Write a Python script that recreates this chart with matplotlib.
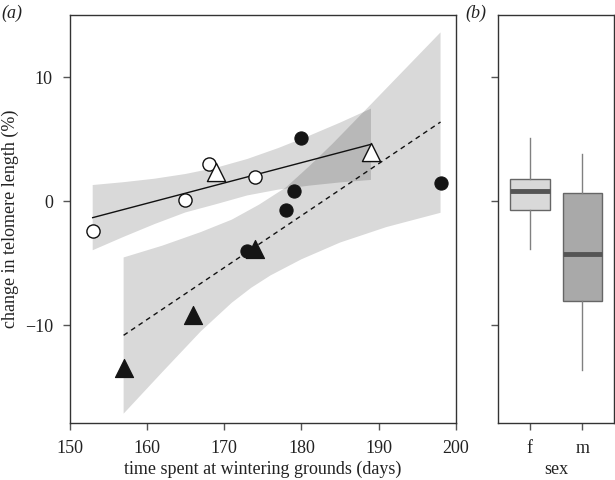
import matplotlib
matplotlib.use("Agg")
import matplotlib.pyplot as plt

plt.rcParams['font.family'] = ['Liberation Serif', 'DejaVu Serif']

# ---- data (panel a) ----
open_circ_x = [153, 165, 168, 174]
open_circ_y = [-2.4, 0.1, 3.0, 1.9]
open_tri_x = [169, 189]
open_tri_y = [2.3, 3.95]
fill_circ_x = [173, 178, 179, 180, 198]
fill_circ_y = [-4.0, -0.75, 0.8, 5.1, 1.45]
fill_tri_x = [157, 166, 174]
fill_tri_y = [-13.5, -9.2, -3.9]

solid_x = [153, 189]
solid_y = [-1.34, 4.57]
dashed_x = [157, 198]
dashed_y = [-10.83, 6.37]

band1_x = [153, 157, 161, 165, 169, 173, 177, 181, 185, 189]
band1_lo = [-3.97, -2.89, -1.86, -0.92, -0.25, 0.45, 0.92, 1.24, 1.50, 1.70]
band1_hi = [1.29, 1.52, 1.80, 2.18, 2.69, 3.39, 4.27, 5.26, 6.32, 7.45]

band2_top_x = [157, 162, 167, 171, 174.5, 178, 181, 184, 189, 193.5, 198]
band2_top_y = [-4.55, -3.6, -2.5, -1.5, -0.3, 1.1, 2.8, 4.6, 7.8, 10.7, 13.6]
band2_bot_x = [157, 162, 167, 171, 173.5, 176, 180, 185, 191, 198]
band2_bot_y = [-17.15, -13.8, -10.5, -8.2, -7.0, -6.0, -4.7, -3.35, -2.1, -0.95]

# ---- data (panel b) ----
sex_labels = ['f', 'm']
box_q1 = [-0.75, -8.1]
box_med = [0.8, -4.3]
box_q3 = [1.8, 0.62]
box_lo = [-3.9, -13.6]
box_hi = [5.08, 3.8]
box_colors = ['#d9d9d9', '#a9a9a9']

fig = plt.figure(figsize=(6.15, 4.8), dpi=100)
W, H = 615, 480
ax = fig.add_axes([69.5 / W, 1 - 423 / H, (456 - 69.5) / W, (423 - 15) / H])
axb = fig.add_axes([498.3 / W, 1 - 423 / H, (614 - 498.3) / W, (423 - 15) / H])

spine_col = '#333333'
for a in (ax, axb):
    for s in a.spines.values():
        s.set_color(spine_col)
        s.set_linewidth(1.0)
    a.tick_params(direction='out', length=5, width=1.0, color='#555555',
                  labelsize=13, labelcolor='#222222', pad=7)

# bands
poly1_x = band1_x + band1_x[::-1]
poly1_y = band1_hi + band1_lo[::-1]
ax.fill(poly1_x, poly1_y, facecolor='black', alpha=0.15, edgecolor='none', zorder=1)
poly2_x = band2_top_x + band2_bot_x[::-1]
poly2_y = band2_top_y + band2_bot_y[::-1]
ax.fill(poly2_x, poly2_y, facecolor='black', alpha=0.15, edgecolor='none', zorder=1)

ax.plot(solid_x, solid_y, color='#111111', lw=1.0, zorder=2)
ax.plot(dashed_x, dashed_y, color='#111111', lw=1.0, linestyle=(0, (3.5, 3)), zorder=2)

ax.scatter(fill_circ_x, fill_circ_y, s=90, marker='o', facecolor='#151515',
           edgecolor='#151515', linewidths=0.8, zorder=3)
ax.scatter(fill_tri_x, fill_tri_y, s=170, marker='^', facecolor='#151515',
           edgecolor='#151515', linewidths=0.8, zorder=3)
ax.scatter(open_circ_x, open_circ_y, s=90, marker='o', facecolor='white',
           edgecolor='#111111', linewidths=1.0, zorder=3)
ax.scatter(open_tri_x, open_tri_y, s=170, marker='^', facecolor='white',
           edgecolor='#111111', linewidths=1.0, zorder=3)

ax.set_xlim(150, 200)
ax.set_ylim(-17.9, 15.0)
ax.set_xticks([150, 160, 170, 180, 190, 200])
ax.set_yticks([-10, 0, 10])
ax.set_yticklabels(['\u221210', '0', '10'])
ax.set_xlabel('time spent at wintering grounds (days)', fontsize=13, color='#222222', labelpad=3)
ax.set_ylabel('change in telomere length (%)', fontsize=13, color='#222222', labelpad=4)

# panel b
stats = []
for i in range(2):
    stats.append(dict(med=box_med[i], q1=box_q1[i], q3=box_q3[i],
                      whislo=box_lo[i], whishi=box_hi[i], fliers=[], label=sex_labels[i]))
bp = axb.bxp(stats, positions=[1, 2], widths=0.75, patch_artist=True, showcaps=False,
             showfliers=False,
             boxprops=dict(edgecolor='#666666', linewidth=1.0),
             medianprops=dict(color='#555555', linewidth=3.5, solid_capstyle='butt'),
             whiskerprops=dict(color='#808080', linewidth=1.0))
for patch, c in zip(bp['boxes'], box_colors):
    patch.set_facecolor(c)
axb.set_xlim(0.4, 2.6)
axb.set_ylim(-17.9, 15.0)
axb.set_yticks([-10, 0, 10])
axb.set_yticklabels([])
axb.set_xticks([1, 2])
axb.set_xticklabels(sex_labels)
axb.set_xlabel('sex', fontsize=13, color='#222222', labelpad=3)

fig.text(1 / W, 1 - 13 / H, '(a)', fontsize=13, style='italic', va='center', ha='left', color='#222222')
fig.text(465 / W, 1 - 13 / H, '(b)', fontsize=13, style='italic', va='center', ha='left', color='#222222')

fig.savefig('out.png', dpi=100)
